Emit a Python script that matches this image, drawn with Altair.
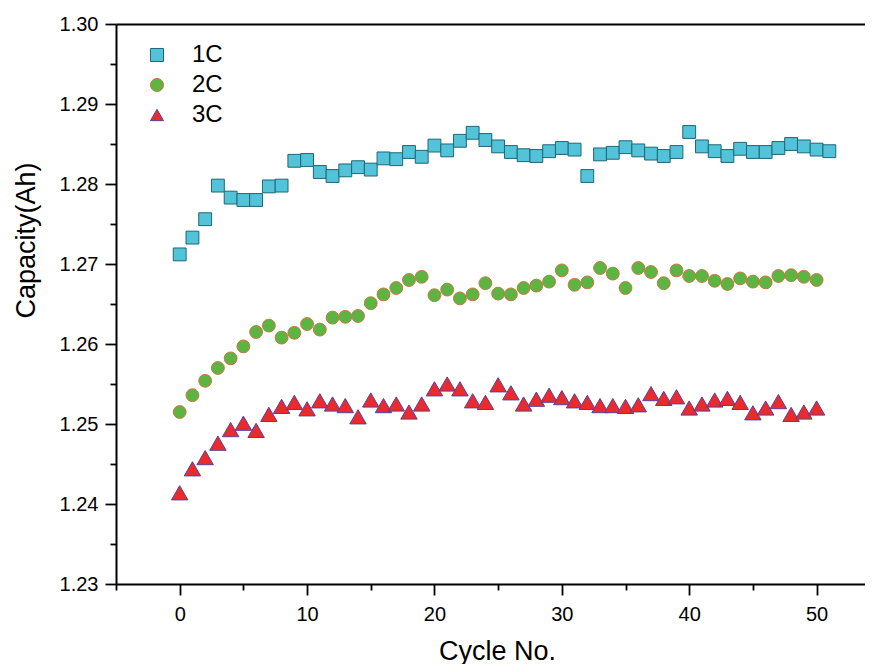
import altair as alt
import pandas as pd

series_names = ["1C", "2C", "3C"]

cycles_1c = list(range(52))
capacity_1c = [
    1.2712, 1.2733, 1.2756, 1.2798, 1.2783, 1.2780, 1.2780, 1.2797, 1.2798, 1.2829,
    1.2830, 1.2815, 1.2810, 1.2817, 1.2821, 1.2818, 1.2832, 1.2831, 1.2840, 1.2834,
    1.2848, 1.2842, 1.2854, 1.2864, 1.2855, 1.2847, 1.2840, 1.2836, 1.2835, 1.2841,
    1.2845, 1.2843, 1.2810, 1.2837, 1.2839, 1.2846, 1.2842, 1.2838, 1.2835, 1.2840,
    1.2865, 1.2847, 1.2841, 1.2835, 1.2844, 1.2840, 1.2840, 1.2845, 1.2850, 1.2847,
    1.2843, 1.2841,
]

cycles_2c = list(range(51))
capacity_2c = [
    1.2515, 1.2536, 1.2554, 1.2570, 1.2582, 1.2597, 1.2615, 1.2623, 1.2608, 1.2614,
    1.2625, 1.2618, 1.2633, 1.2634, 1.2635, 1.2651, 1.2662, 1.2670, 1.2680, 1.2684,
    1.2661, 1.2668, 1.2657, 1.2662, 1.2676, 1.2663, 1.2662, 1.2670, 1.2673, 1.2678,
    1.2692, 1.2674, 1.2677, 1.2695, 1.2688, 1.2670, 1.2695, 1.2690, 1.2676, 1.2692,
    1.2685, 1.2685, 1.2679, 1.2675, 1.2682, 1.2678, 1.2677, 1.2685, 1.2686, 1.2684,
    1.2680,
]

cycles_3c = list(range(51))
capacity_3c = [
    1.2414, 1.2444, 1.2458, 1.2476, 1.2493, 1.2501, 1.2492, 1.2512, 1.2522, 1.2527,
    1.2519, 1.2529, 1.2525, 1.2523, 1.2509, 1.2530, 1.2523, 1.2525, 1.2515, 1.2525,
    1.2544, 1.2550, 1.2544, 1.2529, 1.2527, 1.2549, 1.2539, 1.2525, 1.2531, 1.2536,
    1.2533, 1.2529, 1.2527, 1.2523, 1.2523, 1.2522, 1.2524, 1.2538, 1.2532, 1.2534,
    1.2520, 1.2525, 1.2530, 1.2532, 1.2527, 1.2514, 1.2520, 1.2528, 1.2512, 1.2515,
    1.2520,
]

x_tick_values = [-5, 0, 5, 10, 15, 20, 25, 30, 35, 40, 45, 50]
y_tick_values = [1.23, 1.235, 1.24, 1.245, 1.25, 1.255, 1.26, 1.265, 1.27, 1.275,
                 1.28, 1.285, 1.29, 1.295, 1.30]

fill_colors = ["#52c3d8", "#5cb542", "#ec2a2c"]
stroke_colors = ["#1d6777", "#c9773c", "#56409e"]
shapes = ["square", "circle", "triangle-up"]
marker_sizes = [165, 165, 270]

frames = []
for name, xs, ys in [("1C", cycles_1c, capacity_1c),
                     ("2C", cycles_2c, capacity_2c),
                     ("3C", cycles_3c, capacity_3c)]:
    frames.append(pd.DataFrame({"cycle": xs, "capacity": ys, "series": name}))
df = pd.concat(frames, ignore_index=True)

FONT = "Liberation Sans"

fill_scale = alt.Scale(domain=series_names, range=fill_colors)
stroke_scale = alt.Scale(domain=series_names, range=stroke_colors)
shape_scale = alt.Scale(domain=series_names, range=shapes)

x_scale = alt.Scale(domain=[-5, 53.8], nice=False, zero=False)
y_scale = alt.Scale(domain=[1.23, 1.30], nice=False, zero=False)

legend = alt.Legend(
    orient="top-left", offset=11, padding=8, symbolOffset=10,
    labelFont=FONT, labelFontSize=24, labelColor="black", labelOffset=23,
    symbolSize=170, rowPadding=6, symbolStrokeWidth=1,
)

x_axis = alt.Axis(
    values=x_tick_values,
    labelExpr="datum.value % 10 === 0 ? datum.label : ''",
    tickSize={"condition": {"test": "datum.value % 10 !== 0", "value": 6}, "value": 11},
    tickWidth=1.8, tickColor="black", domainColor="black", domainWidth=2,
    labelFont=FONT, labelFontSize=20, labelColor="black", labelPadding=9,
    labelOverlap=False, grid=False,
    titleFont=FONT, titleFontSize=27, titleFontWeight="normal",
    titleColor="black", titlePadding=14, titleX=381,
)
y_axis = alt.Axis(
    values=y_tick_values,
    labelExpr="abs(round(datum.value*1000) % 10) === 5 ? '' : format(datum.value, '.2f')",
    tickSize={"condition": {"test": "abs(round(datum.value*1000) % 10) === 5", "value": 6}, "value": 11},
    tickWidth=1.8, tickColor="black", domainColor="black", domainWidth=2,
    labelFont=FONT, labelFontSize=20, labelColor="black", labelPadding=7,
    labelOverlap=False, grid=False,
    titleFont=FONT, titleFontSize=27, titleFontWeight="normal",
    titleColor="black", titlePadding=19, titleY=216,
)

layers = []
for i, name in enumerate(series_names):
    layers.append(
        alt.Chart(df).transform_filter(alt.datum.series == name)
        .mark_point(filled=True, opacity=1, strokeWidth=1, size=marker_sizes[i])
        .encode(
            x=alt.X("cycle:Q", scale=x_scale, title="Cycle No.", axis=x_axis),
            y=alt.Y("capacity:Q", scale=y_scale, title="Capacity(Ah)", axis=y_axis),
            fill=alt.Fill("series:N", scale=fill_scale, legend=legend, title=""),
            stroke=alt.Stroke("series:N", scale=stroke_scale, legend=legend, title=""),
            shape=alt.Shape("series:N", scale=shape_scale, legend=legend, title=""),
        )
    )

points = alt.layer(*layers)

top_frame = alt.Chart(df).mark_point(size=0, opacity=0).encode(
    x=alt.X("cycle:Q", scale=x_scale,
            axis=alt.Axis(orient="top", labels=False, ticks=False, grid=False,
                          domain=True, domainColor="black", domainWidth=2, title="")),
)

chart = alt.layer(points, top_frame).resolve_axis(x="independent").properties(
    width=749, height=560,
    autosize=alt.AutoSizeParams(type="none"),
    padding={"left": 108, "top": 16, "right": 0, "bottom": 80},
).configure_view(strokeWidth=0, strokeOpacity=0).configure(background="white")

chart.save("out.html", embed_options={"renderer": "svg", "actions": False})
